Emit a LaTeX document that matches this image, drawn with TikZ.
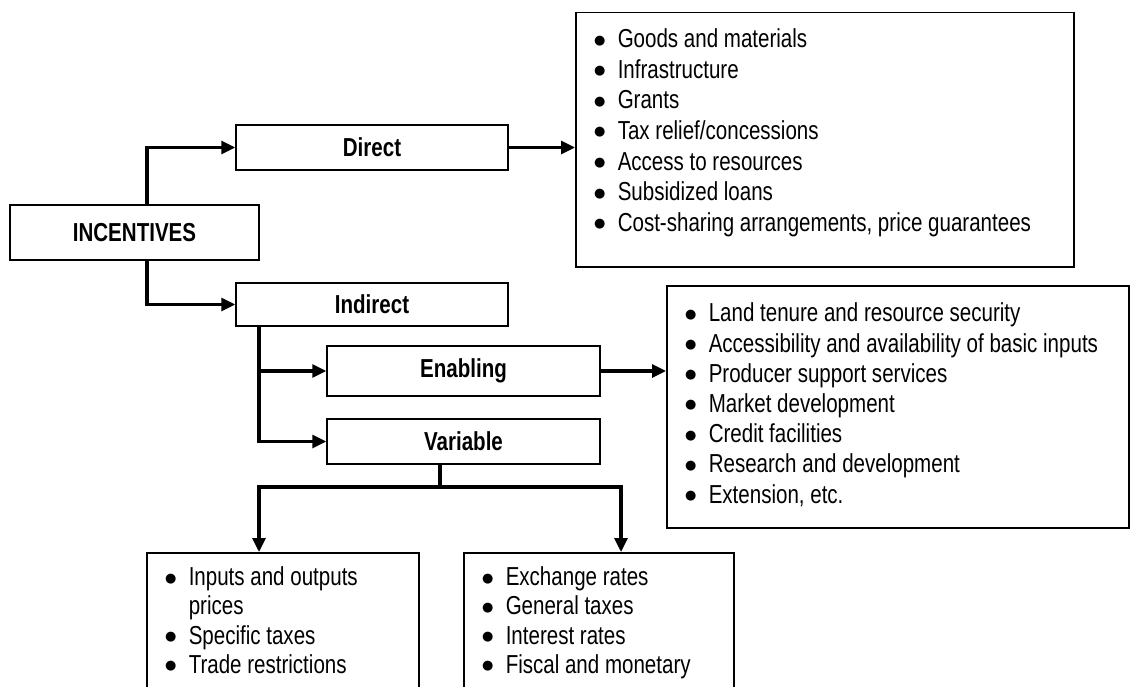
\documentclass[tikz,border=0pt]{standalone}
\usepackage{fontspec}
\setmainfont{Liberation Sans}[FakeStretch=0.79]
\newfontfamily\symb{DejaVu Sans}
\usetikzlibrary{arrows.meta}
\tikzset{boite/.style={draw,line width=1.5pt,inner sep=0pt,font=\bfseries\fontsize{26}{30}\selectfont},
  liste/.style={draw,line width=1.5pt,inner sep=0pt,anchor=north west},
  fleche/.style={line width=3.2pt,-{Triangle[length=14pt,width=13pt]}},
  dims/.style 2 args={minimum width=#1,minimum height=#2}}
\newcommand{\puce}{\makebox[8pt]{\raisebox{3.5pt}{\symb\fontsize{13}{13}\selectfont ●}}}
% liste a puces : largeur, hauteur, marge du haut, interligne, lignes
\newcommand{\blist}[5]{\fontsize{26}{#4}\selectfont
  \parbox[c][#2][t]{#1}{\vspace*{#3}\noindent
    \begin{tabular}[t]{@{\hspace{20pt}}l@{\hspace{14pt}}l@{}}#5\end{tabular}}}

\begin{document}
\begin{tikzpicture}[x=1pt,y=-1pt]
  \useasboundingbox (0,0) rectangle (1132,687);
  \coordinate (tronc) at (147,0);
  \coordinate (branche) at (259,0);
  \coordinate (tige) at (440,0);
  \coordinate (droite) at (621,0);
  \coordinate (barre) at (0,487);
  % les cases
  \node[boite,dims={249}{55}] (inc) at (134.5,232.5) {INCENTIVES};
  \node[boite,dims={272}{45}] (dir) at (372,147.5) {Direct};
  \node[boite,dims={272}{43}] (ind) at (372,304.5) {Indirect};
  \node[boite,dims={273}{50}] (enab) at (463.5,371) {Enabling};
  \node[boite,dims={273}{45}] (var) at (463.5,441.5) {Variable};
  % les listes
  \node[liste] (dlist) at (575,12) {\blist{498pt}{254pt}{13.5pt}{30.6pt}{%
    \puce & Goods and materials\\
    \puce & Infrastructure\\
    \puce & Grants\\
    \puce & Tax relief/concessions\\
    \puce & Access to resources\\
    \puce & Subsidized loans\\
    \puce & Cost-sharing arrangements, price guarantees\\}};
  \node[liste] (elist) at (666,285) {\blist{462pt}{242pt}{15pt}{30.2pt}{%
    \puce & Land tenure and resource security\\
    \puce & Accessibility and availability of basic inputs\\
    \puce & Producer support services\\
    \puce & Market development\\
    \puce & Credit facilities\\
    \puce & Research and development\\
    \puce & Extension, etc.\\}};
  \node[liste] (vlg) at (146,552) {\blist{272pt}{190pt}{12.5pt}{29.2pt}{%
    \puce & Inputs and outputs\\
          & prices\\
    \puce & Specific taxes\\
    \puce & Trade restrictions\\}};
  \node[liste] (vld) at (463,552) {\blist{270pt}{190pt}{12.5pt}{29.2pt}{%
    \puce & Exchange rates\\
    \puce & General taxes\\
    \puce & Interest rates\\
    \puce & Fiscal and monetary\\}};
  % les fleches
  \draw[fleche] (inc.north -| tronc) |- (dir.west);
  \draw[fleche] (inc.south -| tronc) |- (ind.west);
  \draw[fleche] (dir.east) -- (dir.east -| dlist.west);
  \draw[fleche] (ind.south -| branche) |- (enab.west);
  \draw[fleche] (ind.south -| branche) |- (var.west);
  \draw[fleche] (enab.east) -- (enab.east -| elist.west);
  \draw[fleche] (var.south -| tige) |- (barre -| branche) -- (branche |- vlg.north);
  \draw[fleche] (var.south -| tige) |- (barre -| droite) -- (droite |- vld.north);
\end{tikzpicture}
\end{document}
